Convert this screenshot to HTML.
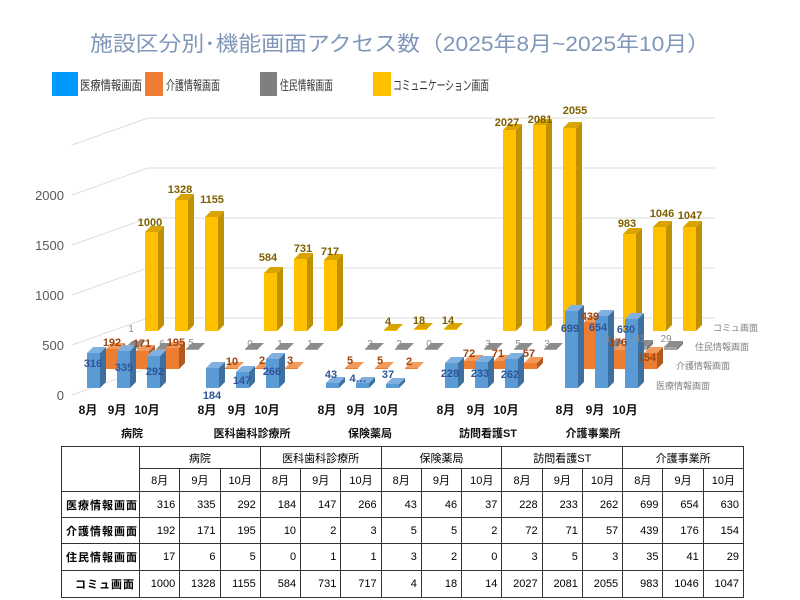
<!DOCTYPE html>
<html><head><meta charset="utf-8"><style>
body{margin:0;width:800px;height:600px;background:#fff;overflow:hidden;position:relative;font-family:"Liberation Sans","Noto Sans CJK JP",sans-serif}
svg{position:absolute;left:0;top:0}
.b .f{fill:#5b9bd5}.b .s{fill:#3d6f9f}.b .t{fill:#7fb0e0}
.o .f{fill:#ed7d31}.o .s{fill:#b05a20}.o .t{fill:#f29a5c}
.g .f{fill:#a5a5a5}.g .s{fill:#7a7a7a}.g .t{fill:#8c8c8c}
.y .f{fill:#ffc000}.y .s{fill:#bf9000}.y .t{fill:#d9a300}
text{font-family:"Liberation Sans","Noto Sans CJK JP",sans-serif}
table{position:absolute;left:61px;top:446px;width:683px;border-collapse:collapse;font-size:11px;font-family:"Liberation Sans","Noto Sans CJK JP",sans-serif;table-layout:fixed}
td{border:1px solid #333;padding:0 4px;text-align:right;white-space:nowrap}
td.d{border-right:1px dotted #555}
td.c{text-align:center}
td.l{text-align:right;font-weight:bold;letter-spacing:1px}
</style></head><body>
<svg width="800" height="600">
<text x="400" y="51" text-anchor="middle" font-size="21" fill="#8097ba" textLength="620" lengthAdjust="spacingAndGlyphs">施設区分別･機能画面アクセス数（2025年8月~2025年10月）</text>
<rect x="52" y="72" width="26" height="24" fill="#0099ff"/><text x="80" y="90" font-size="13" fill="#333" textLength="62" lengthAdjust="spacingAndGlyphs">医療情報画面</text>
<rect x="145" y="72" width="18" height="24" fill="#ed7d31"/><text x="166" y="90" font-size="13" fill="#333" textLength="54" lengthAdjust="spacingAndGlyphs">介護情報画面</text>
<rect x="260" y="72" width="17" height="24" fill="#7f7f7f"/><text x="280" y="90" font-size="13" fill="#333" textLength="53" lengthAdjust="spacingAndGlyphs">住民情報画面</text>
<rect x="373" y="72" width="18" height="24" fill="#ffc000"/><text x="393" y="90" font-size="13" fill="#333" textLength="96" lengthAdjust="spacingAndGlyphs">コミュニケーション画面</text>
<g stroke="#dedede" stroke-width="1" fill="none">
<path d="M148 118H715M148 168H715M148 218H715M148 268H715M148 318H715"/>
<path d="M72 145L148 118M72 195L148 168M72 245L148 218M72 295L148 268M72 345L148 318M72 395L148 368"/>
</g>
<g font-size="13" fill="#595959" text-anchor="end">
<text x="64" y="200">2000</text><text x="64" y="250">1500</text><text x="64" y="300">1000</text><text x="64" y="350">500</text><text x="64" y="400">0</text>
</g>
<!-- yellow row -->
<g class="y">
<g transform="translate(145,331)"><rect class="f" y="-99" width="13" height="99"/><polygon class="s" points="13,-99 19,-105 19,-6 13,0"/><polygon class="t" points="0,-99 6,-105 19,-105 13,-99"/></g>
<g transform="translate(175,331)"><rect class="f" y="-131" width="13" height="131"/><polygon class="s" points="13,-131 19,-137 19,-6 13,0"/><polygon class="t" points="0,-131 6,-137 19,-137 13,-131"/></g>
<g transform="translate(205,331)"><rect class="f" y="-114" width="13" height="114"/><polygon class="s" points="13,-114 19,-120 19,-6 13,0"/><polygon class="t" points="0,-114 6,-120 19,-120 13,-114"/></g>
<g transform="translate(264,331)"><rect class="f" y="-58" width="13" height="58"/><polygon class="s" points="13,-58 19,-64 19,-6 13,0"/><polygon class="t" points="0,-58 6,-64 19,-64 13,-58"/></g>
<g transform="translate(294,331)"><rect class="f" y="-72" width="13" height="72"/><polygon class="s" points="13,-72 19,-78 19,-6 13,0"/><polygon class="t" points="0,-72 6,-78 19,-78 13,-72"/></g>
<g transform="translate(324,331)"><rect class="f" y="-71" width="13" height="71"/><polygon class="s" points="13,-71 19,-77 19,-6 13,0"/><polygon class="t" points="0,-71 6,-77 19,-77 13,-71"/></g>
<g transform="translate(384,331)"><polygon class="t" points="0,-1 6,-7 19,-7 13,-1"/><rect class="f" y="-1" width="13" height="1"/></g>
<g transform="translate(414,330)"><polygon class="t" points="0,-1 6,-7 19,-7 13,-1"/><rect class="f" y="-1" width="13" height="1"/></g>
<g transform="translate(444,330)"><polygon class="t" points="0,-1 6,-7 19,-7 13,-1"/><rect class="f" y="-1" width="13" height="1"/></g>
<g transform="translate(503,331)"><rect class="f" y="-201" width="13" height="201"/><polygon class="s" points="13,-201 19,-207 19,-6 13,0"/><polygon class="t" points="0,-201 6,-207 19,-207 13,-201"/></g>
<g transform="translate(533,331)"><rect class="f" y="-206" width="13" height="206"/><polygon class="s" points="13,-206 19,-212 19,-6 13,0"/><polygon class="t" points="0,-206 6,-212 19,-212 13,-206"/></g>
<g transform="translate(563,331)"><rect class="f" y="-203" width="13" height="203"/><polygon class="s" points="13,-203 19,-209 19,-6 13,0"/><polygon class="t" points="0,-203 6,-209 19,-209 13,-203"/></g>
<g transform="translate(623,331)"><rect class="f" y="-97" width="13" height="97"/><polygon class="s" points="13,-97 19,-103 19,-6 13,0"/><polygon class="t" points="0,-97 6,-103 19,-103 13,-97"/></g>
<g transform="translate(653,331)"><rect class="f" y="-104" width="13" height="104"/><polygon class="s" points="13,-104 19,-110 19,-6 13,0"/><polygon class="t" points="0,-104 6,-110 19,-110 13,-104"/></g>
<g transform="translate(683,331)"><rect class="f" y="-104" width="13" height="104"/><polygon class="s" points="13,-104 19,-110 19,-6 13,0"/><polygon class="t" points="0,-104 6,-110 19,-110 13,-104"/></g>
</g>
<!-- gray row -->
<g class="g">
<g transform="translate(126,349)"><polygon class="t" points="0,-2 6,-8 19,-8 13,-2"/><rect class="f" y="-2" width="13" height="2"/></g>
<g transform="translate(156,350)"><polygon class="t" points="0,-1 6,-7 19,-7 13,-1"/><rect class="f" y="-1" width="13" height="1"/></g>
<g transform="translate(186,350)"><polygon class="t" points="0,-1 6,-7 19,-7 13,-1"/><rect class="f" y="-1" width="13" height="1"/></g>
<g transform="translate(245,350)"><polygon class="t" points="0,-1 6,-7 19,-7 13,-1"/><rect class="f" y="-1" width="13" height="1"/></g>
<g transform="translate(275,350)"><polygon class="t" points="0,-1 6,-7 19,-7 13,-1"/><rect class="f" y="-1" width="13" height="1"/></g>
<g transform="translate(305,350)"><polygon class="t" points="0,-1 6,-7 19,-7 13,-1"/><rect class="f" y="-1" width="13" height="1"/></g>
<g transform="translate(365,350)"><polygon class="t" points="0,-1 6,-7 19,-7 13,-1"/><rect class="f" y="-1" width="13" height="1"/></g>
<g transform="translate(395,350)"><polygon class="t" points="0,-1 6,-7 19,-7 13,-1"/><rect class="f" y="-1" width="13" height="1"/></g>
<g transform="translate(425,350)"><polygon class="t" points="0,-1 6,-7 19,-7 13,-1"/><rect class="f" y="-1" width="13" height="1"/></g>
<g transform="translate(484,350)"><polygon class="t" points="0,-1 6,-7 19,-7 13,-1"/><rect class="f" y="-1" width="13" height="1"/></g>
<g transform="translate(514,350)"><polygon class="t" points="0,-1 6,-7 19,-7 13,-1"/><rect class="f" y="-1" width="13" height="1"/></g>
<g transform="translate(544,350)"><polygon class="t" points="0,-1 6,-7 19,-7 13,-1"/><rect class="f" y="-1" width="13" height="1"/></g>
<g transform="translate(604,350)"><rect class="f" y="-4" width="13" height="4"/><polygon class="s" points="13,-4 19,-10 19,-6 13,0"/><polygon class="t" points="0,-4 6,-10 19,-10 13,-4"/></g>
<g transform="translate(634,350)"><rect class="f" y="-4" width="13" height="4"/><polygon class="s" points="13,-4 19,-10 19,-6 13,0"/><polygon class="t" points="0,-4 6,-10 19,-10 13,-4"/></g>
<g transform="translate(664,350)"><rect class="f" y="-3" width="13" height="3"/><polygon class="s" points="13,-3 19,-9 19,-6 13,0"/><polygon class="t" points="0,-3 6,-9 19,-9 13,-3"/></g>
</g>
<!-- orange row -->
<g class="o">
<g transform="translate(106,369)"><rect class="f" y="-20" width="13" height="20"/><polygon class="s" points="13,-20 19,-26 19,-6 13,0"/><polygon class="t" points="0,-20 6,-26 19,-26 13,-20"/></g>
<g transform="translate(136,369)"><rect class="f" y="-18" width="13" height="18"/><polygon class="s" points="13,-18 19,-24 19,-6 13,0"/><polygon class="t" points="0,-18 6,-24 19,-24 13,-18"/></g>
<g transform="translate(166,369)"><rect class="f" y="-21" width="13" height="21"/><polygon class="s" points="13,-21 19,-27 19,-6 13,0"/><polygon class="t" points="0,-21 6,-27 19,-27 13,-21"/></g>
<g transform="translate(225,369)"><polygon class="t" points="0,-1 6,-7 19,-7 13,-1"/><rect class="f" y="-1" width="13" height="1"/></g>
<g transform="translate(255,369)"><polygon class="t" points="0,-1 6,-7 19,-7 13,-1"/><rect class="f" y="-1" width="13" height="1"/></g>
<g transform="translate(285,369)"><polygon class="t" points="0,-1 6,-7 19,-7 13,-1"/><rect class="f" y="-1" width="13" height="1"/></g>
<g transform="translate(345,369)"><polygon class="t" points="0,-1 6,-7 19,-7 13,-1"/><rect class="f" y="-1" width="13" height="1"/></g>
<g transform="translate(375,369)"><polygon class="t" points="0,-1 6,-7 19,-7 13,-1"/><rect class="f" y="-1" width="13" height="1"/></g>
<g transform="translate(405,369)"><polygon class="t" points="0,-1 6,-7 19,-7 13,-1"/><rect class="f" y="-1" width="13" height="1"/></g>
<g transform="translate(464,369)"><rect class="f" y="-8" width="13" height="8"/><polygon class="s" points="13,-8 19,-14 19,-6 13,0"/><polygon class="t" points="0,-8 6,-14 19,-14 13,-8"/></g>
<g transform="translate(494,369)"><rect class="f" y="-8" width="13" height="8"/><polygon class="s" points="13,-8 19,-14 19,-6 13,0"/><polygon class="t" points="0,-8 6,-14 19,-14 13,-8"/></g>
<g transform="translate(524,369)"><rect class="f" y="-6" width="13" height="6"/><polygon class="s" points="13,-6 19,-12 19,-6 13,0"/><polygon class="t" points="0,-6 6,-12 19,-12 13,-6"/></g>
<g transform="translate(584,369)"><rect class="f" y="-47" width="13" height="47"/><polygon class="s" points="13,-47 19,-53 19,-6 13,0"/><polygon class="t" points="0,-47 6,-53 19,-53 13,-47"/></g>
<g transform="translate(614,369)"><rect class="f" y="-19" width="13" height="19"/><polygon class="s" points="13,-19 19,-25 19,-6 13,0"/><polygon class="t" points="0,-19 6,-25 19,-25 13,-19"/></g>
<g transform="translate(644,369)"><rect class="f" y="-16" width="13" height="16"/><polygon class="s" points="13,-16 19,-22 19,-6 13,0"/><polygon class="t" points="0,-16 6,-22 19,-22 13,-16"/></g>
</g>
<!-- blue row -->
<g class="b">
<g transform="translate(87,388)"><rect class="f" y="-35" width="13" height="35"/><polygon class="s" points="13,-35 19,-41 19,-6 13,0"/><polygon class="t" points="0,-35 6,-41 19,-41 13,-35"/></g>
<g transform="translate(117,388)"><rect class="f" y="-37" width="13" height="37"/><polygon class="s" points="13,-37 19,-43 19,-6 13,0"/><polygon class="t" points="0,-37 6,-43 19,-43 13,-37"/></g>
<g transform="translate(147,388)"><rect class="f" y="-32" width="13" height="32"/><polygon class="s" points="13,-32 19,-38 19,-6 13,0"/><polygon class="t" points="0,-32 6,-38 19,-38 13,-32"/></g>
<g transform="translate(206,388)"><rect class="f" y="-20" width="13" height="20"/><polygon class="s" points="13,-20 19,-26 19,-6 13,0"/><polygon class="t" points="0,-20 6,-26 19,-26 13,-20"/></g>
<g transform="translate(236,388)"><rect class="f" y="-16" width="13" height="16"/><polygon class="s" points="13,-16 19,-22 19,-6 13,0"/><polygon class="t" points="0,-16 6,-22 19,-22 13,-16"/></g>
<g transform="translate(266,388)"><rect class="f" y="-29" width="13" height="29"/><polygon class="s" points="13,-29 19,-35 19,-6 13,0"/><polygon class="t" points="0,-29 6,-35 19,-35 13,-29"/></g>
<g transform="translate(326,388)"><rect class="f" y="-5" width="13" height="5"/><polygon class="s" points="13,-5 19,-11 19,-6 13,0"/><polygon class="t" points="0,-5 6,-11 19,-11 13,-5"/></g>
<g transform="translate(356,388)"><rect class="f" y="-5" width="13" height="5"/><polygon class="s" points="13,-5 19,-11 19,-6 13,0"/><polygon class="t" points="0,-5 6,-11 19,-11 13,-5"/></g>
<g transform="translate(386,388)"><rect class="f" y="-4" width="13" height="4"/><polygon class="s" points="13,-4 19,-10 19,-6 13,0"/><polygon class="t" points="0,-4 6,-10 19,-10 13,-4"/></g>
<g transform="translate(445,388)"><rect class="f" y="-25" width="13" height="25"/><polygon class="s" points="13,-25 19,-31 19,-6 13,0"/><polygon class="t" points="0,-25 6,-31 19,-31 13,-25"/></g>
<g transform="translate(475,388)"><rect class="f" y="-26" width="13" height="26"/><polygon class="s" points="13,-26 19,-32 19,-6 13,0"/><polygon class="t" points="0,-26 6,-32 19,-32 13,-26"/></g>
<g transform="translate(505,388)"><rect class="f" y="-29" width="13" height="29"/><polygon class="s" points="13,-29 19,-35 19,-6 13,0"/><polygon class="t" points="0,-29 6,-35 19,-35 13,-29"/></g>
<g transform="translate(565,388)"><rect class="f" y="-77" width="13" height="77"/><polygon class="s" points="13,-77 19,-83 19,-6 13,0"/><polygon class="t" points="0,-77 6,-83 19,-83 13,-77"/></g>
<g transform="translate(595,388)"><rect class="f" y="-72" width="13" height="72"/><polygon class="s" points="13,-72 19,-78 19,-6 13,0"/><polygon class="t" points="0,-72 6,-78 19,-78 13,-72"/></g>
<g transform="translate(625,388)"><rect class="f" y="-69" width="13" height="69"/><polygon class="s" points="13,-69 19,-75 19,-6 13,0"/><polygon class="t" points="0,-69 6,-75 19,-75 13,-69"/></g>
</g>
<!-- labels -->
<g font-size="11" font-weight="bold" text-anchor="middle">
<g fill="#7f6000">
<text x="150" y="226">1000</text><text x="180" y="193">1328</text><text x="212" y="203">1155</text>
<text x="268" y="261">584</text><text x="303" y="252">731</text><text x="330" y="255">717</text>
<text x="388" y="325">4</text><text x="419" y="324">18</text><text x="448" y="324">14</text>
<text x="507" y="126">2027</text><text x="540" y="123">2081</text><text x="575" y="114">2055</text>
<text x="627" y="227">983</text><text x="662" y="217">1046</text><text x="690" y="219">1047</text>
</g>
<g fill="#8c8c8c" font-weight="normal" font-size="10">
<text x="131" y="332">1</text><text x="162" y="347">6</text><text x="191" y="346">5</text>
<text x="250" y="347">0</text><text x="280" y="347">1</text><text x="310" y="347">1</text>
<text x="370" y="347">3</text><text x="399" y="347">2</text><text x="429" y="347">0</text>
<text x="488" y="347">3</text><text x="518" y="347">5</text><text x="547" y="347">3</text>
<text x="607" y="342">3</text><text x="640" y="342">41</text><text x="666" y="342">29</text>
</g>
<g fill="#a0440f">
<text x="112" y="346">192</text><text x="142" y="347">171</text><text x="176" y="346">195</text>
<text x="232" y="365">10</text><text x="262" y="364">2</text><text x="290" y="364">3</text>
<text x="350" y="364">5</text><text x="380" y="364">5</text><text x="409" y="365">2</text>
<text x="469" y="357">72</text><text x="498" y="357">71</text><text x="529" y="357">57</text>
<text x="590" y="320">439</text><text x="618" y="346">176</text><text x="647" y="361">154</text>
</g>
<g fill="#2f5597">
<text x="93" y="367">316</text><text x="124" y="371">335</text><text x="155" y="375">292</text>
<text x="212" y="399">184</text><text x="242" y="384">147</text><text x="272" y="375">266</text>
<text x="331" y="378">43</text><text x="358" y="382">4…</text><text x="388" y="378">37</text>
<text x="450" y="377">228</text><text x="480" y="377">233</text><text x="510" y="378">262</text>
<text x="570" y="332">699</text><text x="598" y="331">654</text><text x="626" y="333">630</text>
</g>
</g>
<g font-size="9" fill="#7f7f7f">
<text x="713" y="331">コミュ画面</text><text x="695" y="350">住民情報画面</text>
<text x="676" y="369">介護情報画面</text><text x="656" y="389">医療情報画面</text>
</g>
<g font-size="12" font-weight="bold" fill="#111" text-anchor="middle">
<text x="88" y="414">8月</text><text x="117" y="414">9月</text><text x="147" y="414">10月</text>
<text x="207" y="414">8月</text><text x="237" y="414">9月</text><text x="267" y="414">10月</text>
<text x="327" y="414">8月</text><text x="356" y="414">9月</text><text x="386" y="414">10月</text>
<text x="446" y="414">8月</text><text x="476" y="414">9月</text><text x="506" y="414">10月</text>
<text x="565" y="414">8月</text><text x="595" y="414">9月</text><text x="625" y="414">10月</text>
</g>
<g font-size="11" font-weight="bold" fill="#111" text-anchor="middle">
<text x="132" y="437">病院</text><text x="252" y="437">医科歯科診療所</text><text x="370" y="437">保険薬局</text><text x="488" y="437">訪問看護ST</text><text x="593" y="437">介護事業所</text>
</g>
</svg>
<table>
<colgroup><col style="width:78px"><col span="15"></colgroup>
<tr style="height:22px"><td rowspan="2"></td><td class="c" colspan="3">病院</td><td class="c" colspan="3">医科歯科診療所</td><td class="c" colspan="3">保険薬局</td><td class="c" colspan="3">訪問看護ST</td><td class="c" colspan="3">介護事業所</td></tr>
<tr style="height:23px"><td class="c d">8月</td><td class="c d">9月</td><td class="c">10月</td><td class="c d">8月</td><td class="c d">9月</td><td class="c">10月</td><td class="c d">8月</td><td class="c d">9月</td><td class="c">10月</td><td class="c d">8月</td><td class="c d">9月</td><td class="c">10月</td><td class="c d">8月</td><td class="c d">9月</td><td class="c">10月</td></tr>
<tr style="height:26px"><td class="l">医療情報画面</td><td class="d">316</td><td class="d">335</td><td>292</td><td class="d">184</td><td class="d">147</td><td>266</td><td class="d">43</td><td class="d">46</td><td>37</td><td class="d">228</td><td class="d">233</td><td>262</td><td class="d">699</td><td class="d">654</td><td>630</td></tr>
<tr style="height:26px"><td class="l">介護情報画面</td><td class="d">192</td><td class="d">171</td><td>195</td><td class="d">10</td><td class="d">2</td><td>3</td><td class="d">5</td><td class="d">5</td><td>2</td><td class="d">72</td><td class="d">71</td><td>57</td><td class="d">439</td><td class="d">176</td><td>154</td></tr>
<tr style="height:27px"><td class="l">住民情報画面</td><td class="d">17</td><td class="d">6</td><td>5</td><td class="d">0</td><td class="d">1</td><td>1</td><td class="d">3</td><td class="d">2</td><td>0</td><td class="d">3</td><td class="d">5</td><td>3</td><td class="d">35</td><td class="d">41</td><td>29</td></tr>
<tr style="height:27px"><td class="l">コミュ画面</td><td class="d">1000</td><td class="d">1328</td><td>1155</td><td class="d">584</td><td class="d">731</td><td>717</td><td class="d">4</td><td class="d">18</td><td>14</td><td class="d">2027</td><td class="d">2081</td><td>2055</td><td class="d">983</td><td class="d">1046</td><td>1047</td></tr>
</table>
</body></html>
